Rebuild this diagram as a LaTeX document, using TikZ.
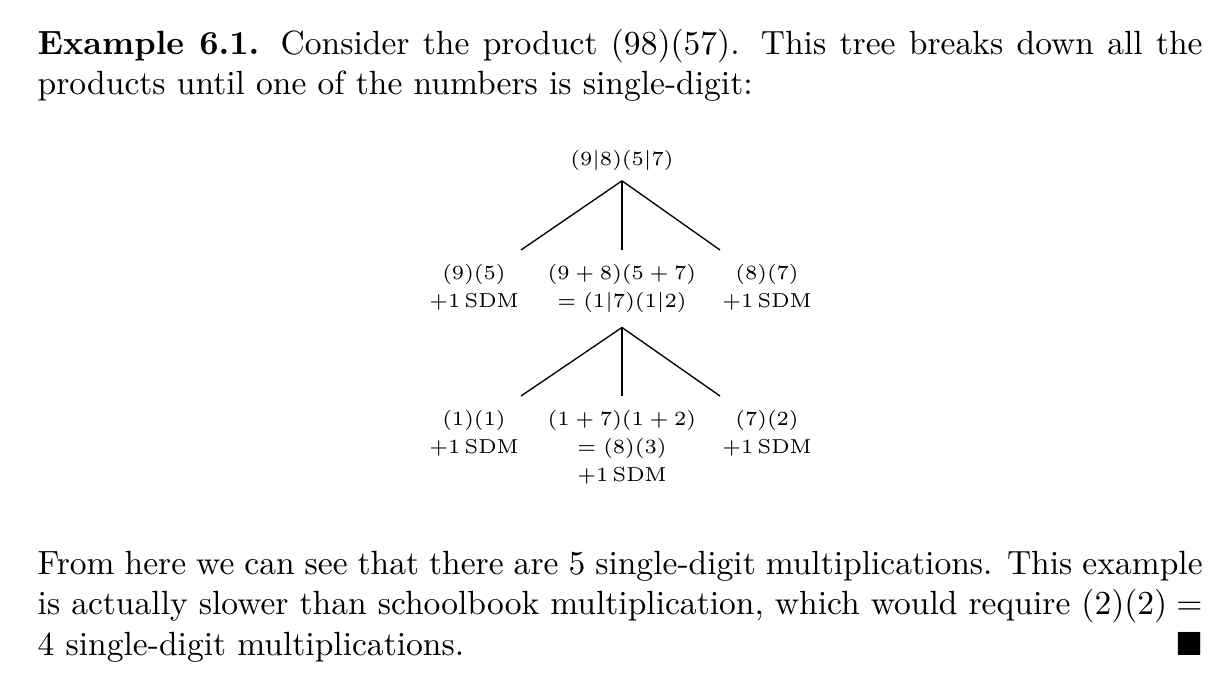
\documentclass[tikz,border=0pt]{standalone}
\usepackage{amsmath,amssymb}
\usetikzlibrary{positioning}

\tikzset{
    para/.style={anchor=north west, inner sep=0pt, text width=12.201cm, align=justify},
    treefont/.style={font=\fontsize{6.5pt}{8.3pt}\selectfont},
    term/.style={treefont, align=center, anchor=north, inner ysep=4.2pt, inner xsep=0.5pt},
}

\begin{document}
\begin{tikzpicture}
    \useasboundingbox (0,0) rectangle (12.756,-7.080);

    % text above and below the tree
    \node[para] (intro) at (0.3875,-0.296) {\textbf{Example 6.1.} Consider the product $(98)(57)$. This tree breaks down all the\linebreak
        products until one of the numbers is single-digit:};
    \node[para] (outro) at (0.3875,-5.767) {From here we can see that there are 5 single-digit multiplications. This example\linebreak
        is actually slower than schoolbook multiplication, which would require $(2)(2) =$\linebreak
        4 single-digit multiplications.\hfill$\blacksquare$};

    % tree: root, 3 branches, 3 leaves under the middle one
    \node[treefont, inner ysep=3pt] (r) at (6.514,-1.676) {$(9|8)(5|7)$};
    \node[term] (a) at (4.964,-2.618) {$(9)(5)$\\$+1\,\mathrm{SDM}$};
    \node[term] (b) at (6.514,-2.618) {$(9+8)(5+7)$\\$=(1|7)(1|2)$};
    \node[term] (c) at (8.033,-2.618) {$(8)(7)$\\$+1\,\mathrm{SDM}$};
    \foreach \name/\anc in {a/north east, b/north, c/north west} {
        \draw (r.south) -- (\name.\anc);
    }

    \node[term] (b1) at (4.964,-4.147) {$(1)(1)$\\$+1\,\mathrm{SDM}$};
    \node[term] (b2) at (6.514,-4.147) {$(1+7)(1+2)$\\$=(8)(3)$\\$+1\,\mathrm{SDM}$};
    \node[term] (b3) at (8.033,-4.147) {$(7)(2)$\\$+1\,\mathrm{SDM}$};
    \foreach \name/\anc in {b1/north east, b2/north, b3/north west} {
        \draw (b.south) -- (\name.\anc);
    }
\end{tikzpicture}
\end{document}
